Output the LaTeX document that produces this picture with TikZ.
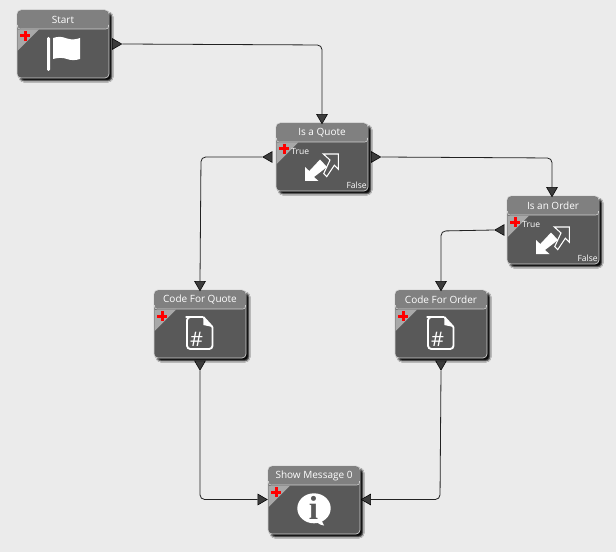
\documentclass[tikz,border=0pt]{standalone}
\usepackage{fontspec}
\setmainfont{Open Sans}
\newfontfamily\iconserif{Liberation Serif}
\usetikzlibrary{shapes.geometric,shadows.blur}
\definecolor{canvasgray}{HTML}{EBEBEB}
\definecolor{bodygray}{HTML}{595959}
\definecolor{headgray}{HTML}{808080}
\definecolor{cornergray}{HTML}{A8A8A8}
\definecolor{edgegray}{HTML}{D0D0D0}
\definecolor{portgray}{HTML}{3C3C3C}
\definecolor{wiregray}{HTML}{222222}
\tikzset{
	block/.style={rectangle, draw=edgegray, line width=0.5pt, fill=bodygray, rounded corners=3pt, minimum width=69pt, minimum height=51pt, inner sep=0pt, blur shadow={shadow xshift=2.2pt, shadow yshift=-2.2pt, shadow blur steps=4, shadow blur radius=1pt, shadow opacity=95}},
	blocktitle/.style={anchor=center, draw=none, inner sep=0pt, text=white, font=\fontsize{7.5}{9}\selectfont},
	tiny/.style={inner sep=0pt, text=white, font=\fontsize{6.4}{7}\selectfont},
	port/.style={isosceles triangle, isosceles triangle apex angle=60, draw=black, line width=0.4pt, fill=portgray, inner sep=0pt, minimum height=7pt, shape border rotate=#1},
	wire/.style={draw=wiregray, line width=0.6pt, rounded corners=3.5pt},
}
% block at top left corner #2, with name #1 and title #3
\newcommand{\flowblock}[3]{
	\begin{scope}[shift={#2}]
		\node[block] (#1) at (46,34) {};
		\fill[headgray, rounded corners=3pt] (0.5,0.5) -- (91.5,0.5) -- (91.5,19) -- (0.5,19) -- cycle;
		\draw[edgegray, line width=0.5pt, rounded corners=2pt] (0.5,15) -- (0.5,19) -- (91.5,19) -- (91.5,15);
		\fill[cornergray] (0.5,19.5) -- (22,19.5) -- (0.5,41) -- cycle;
		\fill[red] (6.5,21) rectangle (9.5,31);
		\fill[red] (3,24.5) rectangle (13,27.5);
		\node[blocktitle] (#1-title) at (46,9.5) {#3};
	\end{scope}
}
\newcommand{\splitlabels}[2]{
	\begin{scope}[shift={#2}]
		\node[tiny, anchor=west] (#1-true) at (15,28) {True};
		\node[tiny, anchor=east] (#1-false) at (91,62) {False};
		\fill[white] (29,58) -- (29,44) -- (33.3,48) -- (44,36.5) -- (51,44) -- (38,54) -- (42.5,58) -- cycle;
		\draw[white, line width=0.8pt, line join=miter] (47.3,31) -- (62.3,31) -- (62.3,46.3) -- (58.3,42.3) -- (50.7,53.7) -- (47.7,50.7) -- (54,37) -- cycle;
	\end{scope}
}
\newcommand{\codeicon}[2]{
	\begin{scope}[shift={#2}]
		\draw[white, line width=1.4pt, rounded corners=2.5pt] (49.3,27) -- (35,27) -- (33,27) -- (33,59) -- (58.5,59) -- (58.5,37);
		\draw[white, line width=1.4pt, line join=round] (49.3,27) -- (58.5,37);
		\fill[white] (49.3,27) -- (49.3,35) -- (58.5,37) -- cycle;
		\node[inner sep=0pt, text=white, font=\fontsize{15}{15}\selectfont] (#1-hash) at (42.5,49) {\#};
	\end{scope}
}
\begin{document}
\begin{tikzpicture}[x=0.75pt, y=-0.75pt]
	\useasboundingbox[fill=canvasgray] (0,0) rectangle (616,552);

	\flowblock{start}{(17,10)}{Start}
	\flowblock{quote}{(276,123)}{Is a Quote}
	\flowblock{order}{(507,196)}{Is an Order}
	\flowblock{cquote}{(154,290)}{Code For Quote}
	\flowblock{corder}{(395,290)}{Code For Order}
	\flowblock{message}{(268,466)}{Show Message 0}

	% flag
	\begin{scope}[shift={(17,10)}]
		\fill[white, rounded corners=1pt] (30,27) rectangle (33,61);
		\fill[white] (36,28) .. controls (42,26) and (46,27) .. (50,28.5) .. controls (55,30) and (59,29.5) .. (63,28) -- (63,49) .. controls (58,50.5) and (54,50.5) .. (50,49) .. controls (46,47.5) and (41,47.5) .. (36,49) -- cycle;
	\end{scope}
	\splitlabels{quote}{(276,123)}
	\splitlabels{order}{(507,196)}
	\codeicon{cquote}{(154,290)}
	\codeicon{corder}{(395,290)}
	% speech bubble
	\begin{scope}[shift={(268,466)}]
		\fill[white] (46,42.3) ellipse (16.7 and 15);
		\fill[white] (47,54) .. controls (49,57) and (52,59) .. (56,59.5) .. controls (54,57) and (54,55) .. (54,52) -- cycle;
		\node[inner sep=0pt, text=bodygray, font=\iconserif\bfseries\fontsize{25}{25}\selectfont] (message-i) at (45.5,41.5) {i};
	\end{scope}

	\node[port=0] (start-out) at (115.5,44) {};
	\node[port=270] (quote-in) at (322,117.5) {};
	\node[port=180] (quote-yes) at (269,157) {};
	\node[port=0] (quote-no) at (374.5,157) {};
	\node[port=270] (order-in) at (552,190.5) {};
	\node[port=180] (order-yes) at (501,230) {};
	\node[port=270] (cquote-in) at (200,284.5) {};
	\node[port=270] (cquote-out) at (200,364) {};
	\node[port=270] (corder-in) at (441,284.5) {};
	\node[port=270] (corder-out) at (441,364) {};
	\node[port=0] (message-left) at (261,499.5) {};
	\node[port=180] (message-right) at (367.5,499.5) {};

	\draw[wire] (start-out.apex) -- (322,45) -- (quote-in.lower side);
	\draw[wire] (quote-yes.apex) -- (201,157) -- (cquote-in.lower side);
	\draw[wire] (quote-no.apex) -- (552,158) -- (order-in.lower side);
	\draw[wire] (order-yes.apex) -- (441,231) -- (corder-in.lower side);
	\draw[wire] (cquote-out.apex) -- (200,499.5) -- (message-left.lower side);
	\draw[wire] (corder-out.apex) -- (440,499.5) -- (message-right.lower side);
\end{tikzpicture}
\end{document}
